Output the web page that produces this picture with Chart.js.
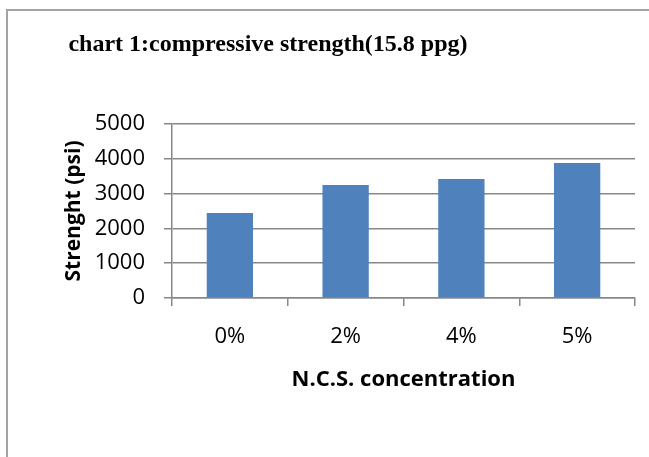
<!doctype html>
<html lang="en">
<head>
<meta charset="UTF-8">
<title>compressive strength (15.8 ppg)</title>
<script src="https://cdn.jsdelivr.net/npm/chart.js"></script>
<style>
body{margin:0;background:#fff;overflow:hidden;}
#wrap{position:relative;width:649px;height:457px;}
#frame{position:absolute;left:6px;top:9px;width:700px;height:500px;border-left:2px solid #a3a3a3;border-top:2px solid #a3a3a3;}
#chart{position:absolute;left:0;top:0;}
</style>
</head>
<body>
<div id="wrap">
  <div id="frame"></div>
  <canvas id="chart" width="649" height="457"></canvas>
</div>
<script>
/* ---------- data ---------- */
const categories = ["0%", "2%", "4%", "5%"];
const strength   = [2440, 3250, 3420, 3880];
const yTicks     = [0, 1000, 2000, 3000, 4000, 5000];
const chartTitle = "chart 1:compressive strength(15.8 ppg)";
const xTitle     = "N.C.S. concentration";
const yTitle     = "Strenght (psi)";

const GRID = "#878787";
const SANS = "'Open Sans', Lato, sans-serif";

// title sits off-centre in the original, so draw it ourselves
const titlePlugin = {
  id: "offTitle",
  afterDraw(chart){
    const c = chart.ctx;
    c.save();
    c.font = "bold 24px 'Liberation Serif', serif";
    c.fillStyle = "#000";
    c.textAlign = "center";
    c.textBaseline = "alphabetic";
    c.fillText(chartTitle, 268, 51);
    c.restore();
  }
};

new Chart(document.getElementById("chart"), {
  type: "bar",
  data: {
    labels: categories,
    datasets: [{
      data: strength,
      backgroundColor: "#4F81BD",
      borderWidth: 0,
      barPercentage: 0.4,
      categoryPercentage: 1
    }]
  },
  options: {
    responsive: false,
    animation: false,
    layout: { padding: { top: 124, right: 14, bottom: 0, left: 0 } },
    plugins: { legend: { display: false }, tooltip: { enabled: false }, title: { display: false } },
    scales: {
      x: {
        grid: { display: true, drawOnChartArea: false, drawTicks: true, tickLength: 8, color: GRID, lineWidth: 1.5, offset: true },
        border: { color: GRID, width: 1.5 },
        ticks: { color: "#000", font: { family: SANS, size: 22 }, padding: 18, maxRotation: 0 },
        title: { display: true, text: xTitle, color: "#000", font: { family: SANS, size: 22, weight: "bold" }, padding: { top: 0, bottom: 64 } },
        afterFit(s){ s.height = 159; }
      },
      y: {
        min: 0, max: 5000,
        afterBuildTicks(s){ s.ticks = yTicks.map(v => ({ value: v })); },
        grid: { color: GRID, lineWidth: 1.5, tickLength: 8 },
        border: { color: GRID, width: 1.5 },
        ticks: { color: "#000", font: { family: SANS, size: 22 }, padding: 19, callback: v => String(v) },
        title: { display: true, text: yTitle, color: "#000", font: { family: SANS, size: 21, weight: "bold" }, padding: { top: 61, bottom: 0 } },
        afterFit(s){ s.width = 172; }
      }
    }
  },
  plugins: [titlePlugin]
});
</script>
</body>
</html>
